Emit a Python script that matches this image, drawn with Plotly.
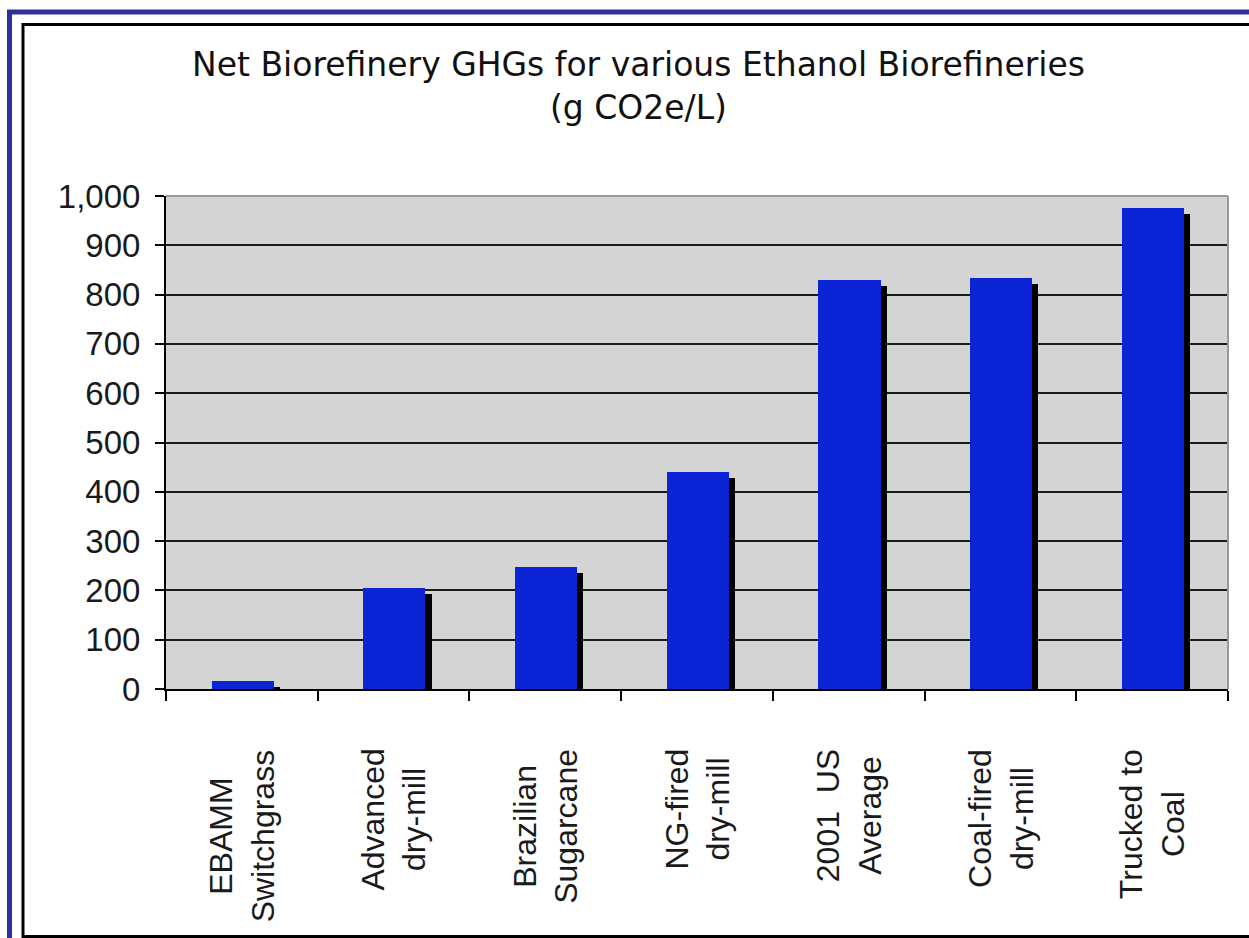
import plotly.graph_objects as go

# Net biorefinery greenhouse-gas emissions per litre of ethanol
categories = [
    "EBAMM<br>Switchgrass",
    "Advanced<br>dry-mill",
    "Brazilian<br>Sugarcane",
    "NG-fired<br>dry-mill",
    "2001  US<br>Average",
    "Coal-fired<br>dry-mill",
    "Trucked to<br>Coal",
]
ghg_values = [16, 205, 248, 440, 830, 834, 975]
y_ticks = [0, 100, 200, 300, 400, 500, 600, 700, 800, 900, 1000]

chart_title = "Net Biorefinery GHGs for various Ethanol Biorefineries<br>(g CO2e/L)"

W, H = 1249, 938
# plot-area box in pixels
L, R, T, B = 166, 1228, 196, 689
PW, PH = R - L, B - T


def px(x):
    return (x - L) / PW


def py(y):
    return (B - y) / PH


x_idx = list(range(len(categories)))
bar_w = 0.41
shadow_dx = 0.04          # in category units
shadow_dy = 12            # in value units

fig = go.Figure()

# drop shadow behind each bar
fig.add_trace(go.Bar(
    x=x_idx, y=[v - shadow_dy for v in ghg_values],
    width=bar_w, offset=-0.2 + shadow_dx,
    marker=dict(color="#000000", line=dict(width=0)),
    hoverinfo="skip", showlegend=False,
))
# the bars themselves
fig.add_trace(go.Bar(
    x=x_idx, y=ghg_values,
    width=bar_w, offset=-0.2,
    marker=dict(color="#0b25d6", line=dict(width=0)),
    showlegend=False,
))

ytick_font = dict(family="Liberation Sans, Arial, sans-serif", size=33, color="#1a1a1a")
xlab_font = dict(family="Liberation Sans, Arial, sans-serif", size=32, color="#1a1a1a")

fig.update_layout(
    width=W, height=H,
    margin=dict(l=L, r=W - R, t=T, b=H - B, pad=0),
    paper_bgcolor="white",
    plot_bgcolor="#d4d4d4",
    barmode="overlay",
    bargap=0,
    xaxis=dict(
        type="linear",
        range=[-0.5, len(categories) - 0.5],
        tickmode="array",
        tickvals=[i - 0.5 for i in range(len(categories) + 1)],
        showticklabels=False,
        ticks="outside", ticklen=10, tickwidth=1.5, tickcolor="#000",
        showgrid=False, zeroline=False,
        showline=True, linecolor="#000", linewidth=2,
    ),
    yaxis=dict(
        range=[0, 1000],
        tickmode="array", tickvals=y_ticks,
        tickformat=",",
        tickfont=ytick_font,
        ticks="outside", ticklen=9, tickwidth=1.5, tickcolor="#000",
        ticklabelstandoff=8,
        showgrid=True, gridcolor="#1a1a1a", gridwidth=1.6,
        zeroline=False,
        showline=True, linecolor="#000", linewidth=2,
    ),
)

# category labels, rotated and centred line by line
for i, lab in enumerate(categories):
    fig.add_annotation(
        x=i, y=0, xref="x", yref="paper",
        text=lab, textangle=-90, align="center",
        xanchor="center", yanchor="top", yshift=-58,
        showarrow=False, font=xlab_font,
    )

title_font = dict(family="DejaVu Sans, Verdana, sans-serif", size=33, color="#111")
fig.add_annotation(x=px(638), y=py(86), xref="paper", yref="paper",
                   text=chart_title, showarrow=False, font=title_font,
                   xanchor="center", yanchor="middle", align="center")

shapes = [
    # grey top and right edges of the plot area
    dict(type="line", xref="paper", yref="paper", x0=0, x1=1, y0=1, y1=1,
         line=dict(color="#9a9a9a", width=2), layer="above"),
    dict(type="line", xref="paper", yref="paper", x0=1, x1=1, y0=0, y1=1,
         line=dict(color="#9a9a9a", width=2), layer="above"),
    # outer navy frame
    dict(type="rect", xref="paper", yref="paper",
         x0=px(9.5), x1=px(1275), y0=py(12), y1=py(960),
         line=dict(color="#30309c", width=5), layer="above"),
    # inner black frame
    dict(type="rect", xref="paper", yref="paper",
         x0=px(23), x1=px(1275), y0=py(24.5), y1=py(936.5),
         line=dict(color="#000", width=3), layer="above"),
]
fig.update_layout(shapes=shapes)

fig.write_html("out.html")
